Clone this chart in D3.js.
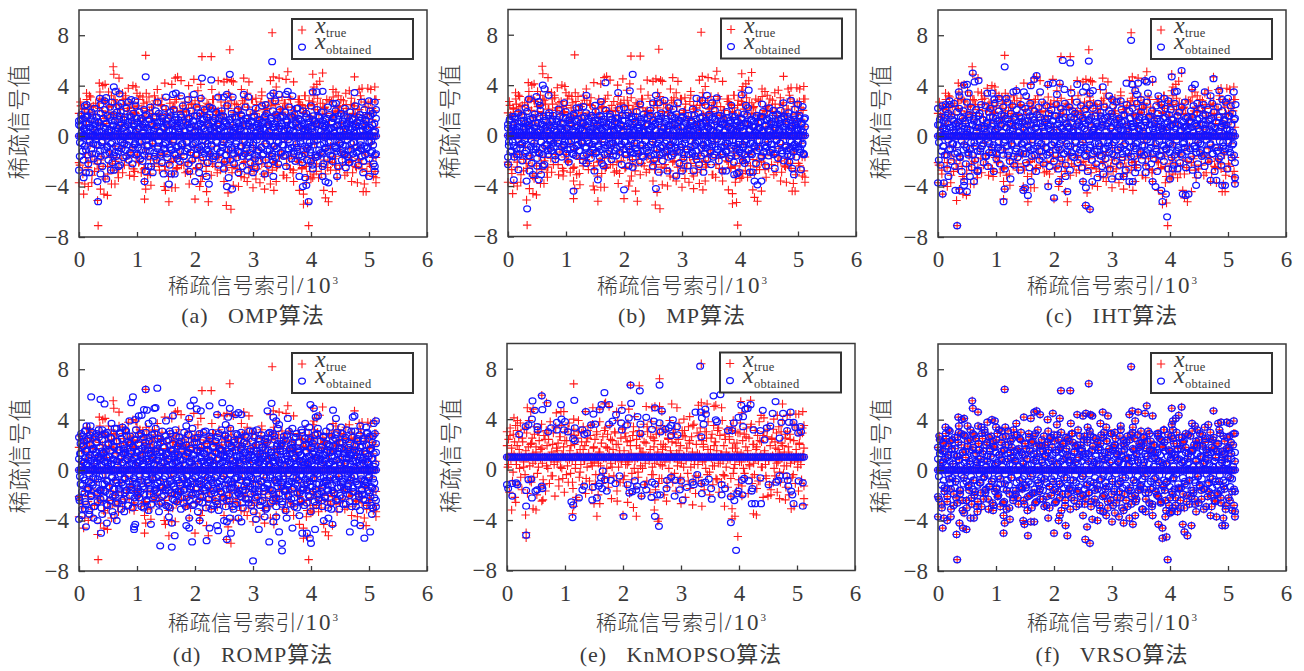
<!DOCTYPE html>
<html>
<head>
<meta charset="utf-8">
<script src="https://cdn.jsdelivr.net/npm/d3@7"></script>
<style>
  body { margin: 0; background: #fff; }
  svg { display: block; }
  text { fill: #3a3a3a; }
</style>
</head>
<body>
<svg id="chart" width="1304" height="671"></svg>
<script>
// values. *Spikes = flat x,y list (x in 10^3), *Cloud = dense part, in index order
const xTicks = [0, 1, 2, 3, 4, 5, 6];
const yTicks = [-8, -4, 0, 4, 8];
const captions = ["(a)   OMP算法", "(b)   MP算法", "(c)   IHT算法", "(d)   ROMP算法", "(e)   KnMOPSO算法", "(f)   VRSO算法"];

const trueSpikes = [.59,5.5,.6,4.9,.69,4.6,.35,4.2,.45,4.1,.41,4,.13,3.4,.18,3.2,.36,3.5,.51,3.5,.6,2.9,.69,3.5,.75,3.4,.8,3.2,.85,3.8,.93,4,.98,3.9,1,3.4,1.1,3.1,1.16,3.4,1.15,6.4,1.35,3.7,1.3,3.2,1.48,4.2,1.6,4.1,1.66,4.6,1.7,4.7,1.76,4.4,1.89,4,1.98,4.5,2.05,3.6,2.1,4.1,2.12,6.3,2.28,6.3,2.29,3.7,2.4,4.4,2.5,4.3,2.55,4.5,2.6,6.85,2.63,4.4,2.66,4.3,2.84,4.6,2.93,4.3,2.58,3.4,2.8,3.7,2.9,3.4,3.05,3,3.15,3.5,3.3,4.4,3.33,8.2,3.35,4.7,3.45,4.6,3.36,3.4,3.4,3.9,3.5,3.1,3.6,5.1,3.57,4.5,3.7,4.3,3.8,2.9,3.9,3.2,4.03,4.9,4.03,3.6,4.05,3.9,4.1,4.1,4.15,4.35,4.2,5,4.05,3.2,4.38,3.7,4.43,3.5,4.47,3.2,4.6,3.4,4.66,3.6,4.75,4.7,4.83,3.7,4.88,3.8,4.98,3.8,5.03,3.7,5.1,3.9,5.12,2.9,
  .33,-7.1,.32,-5.1,3.96,-7.1,3.87,-5.4,3.94,-5.3,3.87,-4.6,1.13,-5,1.55,-5.2,2,-5,2.23,-5.2,2.54,-5.5,2.62,-5.8,2.57,-4.5,4.22,-4.3,4.25,-4.9,4.3,-5.2,4.37,-4.4,4.9,-4.4,4.95,-4.4,.08,-4.6,0,-3.7,.1,-3.8,.16,-4,.22,-3.7,.37,-4.2,.43,-4.6,.49,-4.7,.56,-3.8,.62,-3.8,.68,-3.3,.45,-3.4,.95,-3.2,1.13,-3.6,1.15,-4.2,1.24,-3.9,1.47,-4,1.49,-4.3,1.6,-4.1,1.66,-4.1,1.9,-3.8,2.08,-4,2.1,-3.6,2.2,-4.4,2.5,-3.6,2.66,-3.9,2.75,-4,2.85,-3.3,2.9,-3.6,3,-4.1,3.05,-3.4,3.12,-3.7,3.2,-4.2,3.3,-3.8,3.36,-4.3,3.4,-3.6,3.2,-3.2,3.58,-3.3,3.7,-3.6,3.8,-4.3,3.92,-3.7,4,-3.4,4.03,-3.3,4.05,-3,4.13,-3.3,4.45,-3.3,4.7,-3.6,4.8,-3.7,4.92,-3.8,5.12,-3.3,5.12,-3.7];
const trueCloud = [1.8,-2.3,2.4,.6,-2.7,1.5,2.1,-1.4,.9,2.5,-2.1,1.2,-.7,2.3,-3.1,1.7,.5,-1.9,2.6,-.9,1.1,-2.6,2.2,.8,-1.6,2.9,-2.4,1.4,-.6,2.7,1,-3,1.9,-1.2,.7,2.4,-2.2,1.6,-.8,2.8,-1.7,1.3,.6,-2.5,2.1,-1,.9,-2.9,2.5,1.5,-.5,-1.8,2,.7,-2.3,2.6,-1.3,1.1,-.9,2.3,-2.8,1.8,.5,-1.5,2.9,-2,1.2,-.7,2.2,.8,-2.6,1.6,-1.1,2.7,-3.1,.9,2,-1.9,1.4,-.6,2.5,-2.4,1,.7,-1.6,2.8,-2.2,1.7,-.8,2.4,-1.4,1.2,.5,-2.7,2.1,-1.2,.9,-2.1,2.6,1.5,-.5,-3,2.3,.8,-1.8,2.9,-2.5,1.3,-1,2,-1.5,1.9,.6,-2.3,2.7,-.7,1.1,-2.8,2.2,1.6,-1.3,2.5,-2,.7,-.9,2.8,-2.6,1.4,.5,-1.7,2.4,-1.1,1.8,-3.2,2.1,.9,-.6,-2.4,2.6,1.2,-1.9,2.3,-1.4,.8,-2.2,2.9,-.8,1.5,.6,-2.9,2,-1.6,1,2.7,-2.1,1.7,-.5,2.4,-2.7,1.3,-1.2,2.2,.7,-1.8,2.8,-2.5,.9,1.9,-1,-2.3,2.5,.5,-1.5,1.6,-2.8,2.1,-.7,1.1,2.6,-2,.8,-1.3,2.3,-3,1.4,.6,-2.4,2.9,-.9,1.8,-1.7,2,-2.6,1.2,.7,-1.1,2.7,-2.2,1.5,-.6,2.4,-1.9,.9,2.2,-2.9,1,.5,-1.4,2.8,-2.1,1.7,-.8,2.5,-2.5,1.3,.8,-1.6,2.1,-1.2,1.9,-3.1,2.6,.6,-.5,-2.3,2.3,1.1,-1.8,2.9,-1.5,1.6,-2.7,2,-.7,1.4,.9,-2,2.7,-1,.7,-2.6,2.4,1.8,-1.3,2.2,-2.4,.5,-.9,2.8,-2.8,1.5,1,-1.7,2.5,-.6,1.2,-2.2,2.1,.8,-1.4,2.6,-3,1.7,.6,-1.9,2.3,-1.1,2.9,-2.5,.9,1.3,-.8,2.7,-2.1,1.6,-1.6,2,-2.7,.7,1.9,-.5,2.4,-1.2,1.1,-2.3,2.8,.5,-1.5,2.2,-2.9,1.4,.8,-1,2.5,-2,1.8,-.7,2.6,-2.4,1,1.5,-1.8,2.1,-.9,2.9,-2.6,.6,1.2,-1.3,2.3,-3.1,1.7,.9,-2.2,2.7,-.6,1.3,-1.7,2,-2.8,.7];
const trueOuter = [-2.1,2.7,1.6,-3,2.2,-1.7,2.9,-2.5,1.9,3.1,-1.5,2.4,-2.8,1.7,-2.2,2.6,3,-1.9,2,-3.2,2.8,1.5,-2.4,2.3,-1.6,3.2,-2.7,1.8,-2,2.5,-2.9,2.1,1.6,-1.8,2.9,-2.3,3,-1.5,2.2,-3.1,1.7,2.7,-2.6,1.9,-1.7,2.4,-2.1,3.2,-2.9,1.5,2.6,-2.5,2,-1.6,3.1,-3,2.3,1.8,-2.2,2.8,-1.9,1.6,-2.7,2.5,3,-1.5,-2.4,2.1,1.7,-3.2,2.9,-2,2.2,-1.8,2.7,-2.6,1.9,3.2,-1.7,-2.3,2.4,1.5,-2.9,2,-2.1,3.1,-3,2.6,1.8,-1.6,2.3,-2.5,2.8,1.6,-2.2,3,-1.9,2.1,-2.8,1.7,2.5,-1.5,-3.1,2.9,2.2,-2.4,1.9,-1.7,3.2,-2.7,2,1.5,-2,2.7,-2.3,2.4,-1.8,3.1,-2.9,1.6,2.6,-1.6,-2.6,2.2,1.8,-3.2,2.8,-2.1,3,-1.5,2.3,-2.5,1.7,2.9,-1.9,-2.8,2,2.5,-2.2,1.5,-1.7,3.2,-3,2.1,1.9,-2.4,2.7,-1.6,2.4,-2.7,3,1.6,-2,-2.3,2.8,1.8,-1.5,2.2,-3.1,2.6,-1.8,1.7,3.1,-2.6,2.3,-2.9,1.5,2,-1.7,2.9,-2.1,2.5,-2.5,1.9,3.2,-1.6,-3.2,2.4,1.6,-2.2,2.7,-1.9,2.1,-2.8,3,1.7,-1.5,-2.4,2.6,2.2,-3,1.8,-2,2.8,-2.7,1.5,3.1,-1.8,-2.3,2.3,2,-2.6,2.9,-1.6,1.9,-3.1,2.5,1.6,-2.1,-1.7,3,-2.9,2.4,1.7,-2.5,2.1,-1.9,3.2,-2.2,1.5,2.7,-1.5,-2.8,2.6,1.8,-2.4,2.2,-3.2,2.9,-1.7];
const innerCloud = [.9,-.5,1.3,.3,-1.2,.6,-.8,1.5,.4,-1.5,1,-.3,.7,-1,1.6,-.6,.5,1.2,-1.4,.3,-.7,1.1,.8,-1.6,.4,-.4,1.4,-1.1,.6,1,-.9,.3,-1.3,1.5,.5,-.5,.9,-1.5,1.2,-.8,.7,.4,-1.2,1.6,-.3,-1,.6,1.3,-.6,.8,-1.6,.3,1.1,-.4,-1.3,1.5,.5,-.9,1,-.7,.4,1.4,-1.4,.6,-.5,1.2,-1.1,.9,.3,-1.5,1.6,-.3,.7,-.8,1.3,-1.2,.5,1,-.6,.4,-1.6,1.5,.8,-1,-.4,1.1,.3,-1.3,1.4,-.7,.6,-.5,1.2,-1.4,.9,.4,-.9,1.6,-1.1,.5,-.3,1.3,-1.5,.7,1,-.8,.3,-1.2,1.5,-.6,.8,-1.6,.4,1.1,-.4,-1,1.4,.6,-1.3,.9,-.7,1.2,.3,-.5,-1.5,1.6,.5,-.9,1,-1.1,.7,-.3,1.3,-1.4,.4,1.5,-.6,-1.2,.8,.6,-.8,1.1,-1.6,.3,1.4,-.4,-1,.9,.5,-1.3,1.6,-.7,.7,-.5,1.2,-1.5,1,.4,-1.1,1.3,-.3,-.9,1.5,.3,-1.4,.6,-.6,1.1,-1.2,.8,.5,-.8,1.6,-1.6,.9,-.4,1.4,-1,.4,1,-.5,-1.3,1.2,.7,-.7,1.5,-1.5,.3,-.3,1.3,-1.1,.6,.8,-.9,1.1,-1.4,.5,1.6,-.6,-1.2,.9,.4,-.4,1.4,-1.6,.7,1,-.8,.3,-1,1.2,-.5,.6,1.5,-1.3,.8,-.7,.4,-1.5,1.3,1.1,-.3,-1.1,.5,1.6,-.9,.9,-1.4,.3,1,-.6,-1.2,1.4,.7,-.4,1.2,-1.6,.6,.4,-.8,1.5,-1,.5,1.1,-.5,-1.3,.8,1.3,-.7,.3,-1.5,1,-.3,1.6,-1.1,.9,.4,-1.4,1.2,-.6,.7,-.9,1.4,-1.2,.5,.6,-.4,1.1,-1.6,1.5,.3,-.8,-1,.8,1.3,-.5,.4,-1.3,1,-.7,1.6,-1.5,.6,.9,-.3,-1.1,1.2,.5,-.6,1.4,-1.4,.3,.7,-.9,1.1,-1.2,1.5,.4,-.4,-1.6,.8,1,-.8,1.3,-1,.6,.5,-.5,1.6,-1.3,.9,-.7,.3,-1.5,1.4];

const ompSpikes = [.6,3.9,.63,3.55,.7,3.35,.36,3,.47,3.05,.13,2.5,.1,2.4,.37,2.5,.44,2.8,.57,2.7,.68,2.4,.73,2.6,.85,2.7,.9,2.9,.97,2.8,1.15,4.7,1.35,2.7,1.5,3.1,1.62,3.3,1.67,3.4,1.76,3.2,1.88,2.9,1.98,3.3,2.1,3,2.12,4.6,2.28,4.45,2.25,2.3,2.4,3.1,2.5,3.1,2.55,3.3,2.6,4.9,2.65,3.1,2.84,3.3,2.92,3.1,3.22,2.5,3.3,3.2,3.33,5.9,3.35,3.4,3.45,3.3,3.38,2.8,3.57,3.3,3.6,3.55,3.68,3.2,3.75,2.2,4.03,3.5,4.1,3.5,4.2,3.55,4.38,2.6,4.43,2.6,4.75,3.45,4.88,2.7,5,2.8,5.1,2.7,5.12,2.1,
  .33,-5.2,3.96,-5.2,0,-2.7,.08,-3.3,.12,-2.9,.18,-2.9,.32,-3.6,.37,-3,.47,-3.4,.55,-2.7,.6,-2.7,.68,-2.4,1.13,-3.6,1.15,-2.8,1.2,-2.4,1.27,-2.9,1.46,-3,1.55,-3.8,1.59,-3,1.65,-3,1.9,-2.8,2,-3.6,2.07,-2.9,2.2,-3.2,2.24,-3.8,2.5,-2.6,2.55,-4,2.64,-4.2,2.58,-3.3,2.75,-2.9,2.9,-2.7,3,-2.9,3.05,-2.5,3.2,-3,3.35,-3.2,3.35,-2,3.8,-3.2,3.9,-3.3,3.86,-4,3.92,-3.9,4,-2,4.03,-2.6,4.2,-3.2,4.25,-3.6,4.3,-3.7,4.2,-2.4,4.45,-3.2,4.6,-2.5,4.65,-2.1,4.9,-2.9,5,-3.2,5.1,-2.8,5.1,-2.4];
const ompCloud = [1.2,-1.6,.8,1.7,-.6,1.4,-1.9,.5,2,-1.1,1,1.6,-2.2,.7,-.4,1.3,1.9,-1.4,.6,-1.8,2.2,.9,-.7,1.5,-2,1.1,.4,-1.2,1.8,-.5,-2.4,1.4,.7,2.1,-1.5,1,-.8,1.6,-1.9,.5,2.3,-.6,1.2,-2.1,.8,1.7,-1.3,.4,-1.6,1.9,.6,-.9,1.3,-2.3,2,1,-.5,-1.7,.7,1.5,-1.1,2.2,-.7,.9,-1.9,1.6,.5,-1.4,1.2,-2.2,1.8,.8,-.6,2.4,-1.5,1.1,-.9,.6,1.9,-1.8,1.4,-.4,-2,.7,2.1,1,-1.2,1.7,-.7,.5,-1.6,1.3,2.3,-2.4,.9,-.5,1.5,-1.3,.6,2,-1.9,1.1,-.8,1.8,.4,-1.5,1.2,-2.1,1.6,.7,-1,2.2,-.6,.9,-1.7,1.4,.5,-2.3,1.9,-1.1,1,-.4,2.1,-1.4,.8,1.5,-.9,-1.8,1.3,.6,-2,1.7,-.7,1.1,2.4,-1.6,.5,-1.2,1.9,-.5,.9,-2.2,1.4,.7,-1.3,2,-1.9,1.2,-.6,1.6,.4,-1.5,2.3,-1,.8,-2.4,1.8,1,-.8,1.3,-1.7,.6,2.1,-.4,-1.1,1.5,-2.1,.9,1.7,-1.4,.5,-.7,2.2,-1.8,1.2,.7,-1.6,1.9,-.5,1,-2.3,1.4,.6,-1.2,2,-.9,1.6,.4,-2,1.1,-1.5,2.4,.8,-.6,1.3,-1.9,.5,1.8,-1.1,.9,-2.2,1.5,.7,-.4,-1.7,2.1,1,-1.3,.6,1.7,-.8,-2.4,1.2,.4,-1.4,2.3,-.7,1.4,-1.6,.8,1.9,-2.1,.5,1.1,-1,-.5,1.6,-1.8,2.2,.7,-1.2,1,-2,1.3,.4,-.9,2.4,-1.5,.6,1.5,-.6,-1.9,1.8,1.1,-2.3,.9,-1.1,1.2,.5,-1.4,2,-.8,.7,-1.7,1.7,-.4,1.4,-2.2,.8,2.1,-1.3,1,-.7,1.6,-1.6,.5,1.9,-2.4,1.2,.6,-1,2.3,-.5,.9,-1.8,1.5,.4,-1.2,1.7,-2,1.1,-.9,2.2,.7,-1.5,1.3,-.6,.8,-2.1,2,1,-1.4,.5,1.8,-1.9,.7,-.8,1.4,-1.1,2.4,.6,-2.3,1.6,-.4,1.2,-1.7,.9,2.1,-1.6,.5,1.5,-.7,-1.3,1.9,.8,-2.2,1,-1,1.3,.4,-1.8,2.3,-.5,1.7,-1.5,.6,1.1,-2,1.4,.7,-.9,2,-1.2,.9,-2.4,1.6,.5,-.6,1.8,-1.9,1.2,.4,-1.4,2.2,-.8,1,-1.6,1.5,.7,-2.1,1.9,-1.1,.6,1.3,-.5,-1.7,2.4,.9,-1.3,1.1,-2.3,.8,1.7,-.7,-1,1.4,.5,-2,2.1,-1.5,1.2,.6,-.9,1.6,-1.8,.7,2,-.4,-1.2,1.8,-2.2,1,.4,-1.4];

const mpSpikes = [.6,4,.63,3.7,.7,3.2,.36,2.9,.49,3.1,.53,2.7,.55,2.4,.3,2.2,.97,2.6,1.35,3.2,1.18,2.2,1.3,2.3,1.5,2.4,1.6,2.7,1.68,4.2,1.9,3.4,2,2.2,2.1,3.55,2.15,4.85,2.28,2.5,2.55,3.2,2.5,2.6,2.6,2.6,2.7,2.8,2.85,2.1,2.93,2.6,3.25,2.95,3.35,2.8,3.4,2.4,3.43,3.2,3.52,2.6,3.6,3,3.85,2.4,4.03,3.25,4.1,2.4,4.15,3.6,4.38,2.5,4.5,2.2,4.7,2,4.75,2.6,4.88,2.8,5,2.5,5.08,2.3,4.95,2.1,
  .33,-5.8,0,-1.7,0,-2.3,.1,-3.5,.18,-2.7,.32,-3.6,.37,-2.8,.43,-3.1,.5,-2.4,.53,-3.5,.57,-3.1,.6,-2.4,1.13,-4.4,1.35,-2.2,1.49,-2.8,1.55,-3.5,1.65,-2.4,2,-4.3,2.08,-2.4,2.15,-2.5,2.55,-4.2,2.5,-2.4,2.6,-2.9,2.75,-2.8,2.9,-3.2,3,-2.8,3.1,-2.4,3.2,-2.8,3.25,-1.9,3.37,-2.9,3.5,-2.3,3.7,-2.8,3.76,-2.8,3.9,-3.1,3.95,-3,3.98,-2.9,4.05,-2,4.08,-2.2,4.17,-2.9,4.22,-2.9,4.25,-3.6,4.3,-3.9,4.37,-3.6,4.45,-2.4,4.6,-2.6,4.85,-2.1,4.9,-2.6,4.93,-3.1,5.05,-2.7,5.1,-1.5];
const mpCloud = [.6,-.8,1.2,-1.3,.4,1.5,-.5,.9,-1.7,1.3,.5,-1,.7,1.8,-1.5,.3,-.7,1.1,-2,1.6,.6,-.4,1,-1.2,1.9,.8,-1.6,.5,1.3,-.9,-2.2,.4,1.4,-.6,1.7,-1.1,.7,-1.8,1,.3,-1.4,2,-.5,.9,-1,1.5,-2.3,.6,1.2,-.7,.4,-1.5,1.8,.8,-.4,-1.2,1.1,1.6,-.9,.5,-1.9,1.3,.3,-.6,2.1,-1.3,.7,1,-1.7,.4,1.4,-.8,-.5,1.9,.6,-1.1,1.2,-2.1,.9,1.5,-.4,-1.4,.5,1.7,-1,.3,-1.6,1.1,.8,-.7,2.2,-1.2,.6,1.4,-.5,-2,1,.4,-.9,1.8,-1.5,.7,1.3,-.6,.5,-1.8,1.6,.3,-1.1,1,-.4,1.9,-1.3,.8,-.8,1.2,-1.7,.6,1.5,-2.2,.4,1.1,-.5,-1,2,.7,-1.4,.9,-.7,1.7,.3,-1.9,1.3,-.6,.5,-1.2,1.4,-1.6,1,.6,-.4,2.1,-.9,.8,-2.3,1.6,.4,-1.1,1.2,-.5,-1.5,.7,1.8,-.8,.3,-1.3,1.5,.9,-1.8,.5,-.6,1.1,-1,1.9,.6,-1.4,.4,-2.1,1.3,1,-.7,-1.7,1.7,.3,-.4,.8,-1.2,1.4,-.9,.5,2,-1.6,.7,-.5,1.2,-1.9,.9,.4,-1.1,1.6,-.6,1.1,-1.5,.3,1.8,-.8,-2,.6,1,-1.3,1.3,-.4,.5,-1.7,2.2,.8,-.7,-1,1.5,.4,-1.4,.9,-.5,1.7,-1.2,.6,1.2,-2.2,.3,-.9,1.4,1.9,-1.8,.7,-.6,1,-1.1,.5,1.6,-1.5,.4,-.4,1.1,-1.3,2.1,.8,-.8,-1.6,1.3,.6,-.5,1.8,-2.3,.3,.9,-1,1.5,-.7,.4,-1.4,1.2,1,-1.9,.7,-.6,1.7,-1.2,.5,-.4,1.4,-1.7,.8,2,-.9,.3,-1.1,1.6,-2,.6,1.1,-.5,-1.5,.9,1.3,-.8,.4,-1.3,1.9,-.6,.7,-1.8,1,.5,-1,1.5,-.4,-2.1,1.2,.3,-1.6,.8,1.8,-.7,-1.1,.6,1.4,-1.4,.4,-.9,1.7,-.5,1,-1.9,.9,2.2,-1.2,.5,-.6,1.3,-1.5,.7,1.1,-.8,.3,-2.2,1.6,-.4,1,-1,.6,1.5,-1.7,.4,1.9,-1.3,.8,-.5,1.2,-.9,.5,-1.6,1.4,.3,-.7,1.1,-1.1,2,.9,-1.4,.6,-.4,1.7,-1.8,.4,1,-.6,1.3,-1.2,.7,-2,1.5,.5,-.8,.9,-1.5,1.8,.3,-1,1.2,-.5,.6,-1.3,1.6,-.7,.8,-1.7,1.1,.4,-.9,1.4,-1.1,.5,1,-.6,-1.4,1.3,.7];

const ihtSpikes = [.6,5,.63,4.3,.7,4.4,.36,3.5,.37,3.2,.45,4.05,.5,4.1,.53,3.4,.13,2.5,.2,2.8,.85,3.4,.93,3.4,.97,2.9,1.05,3,1.15,5.5,1.18,3,1.35,3.6,1.3,3.5,1.48,3.5,1.52,3.2,1.6,4,1.66,4.5,1.7,4.8,1.76,3.5,1.9,4.1,1.98,4.2,2.05,3.3,2.1,4.2,2.15,6,2.18,3.7,2.28,5.8,2.3,3.4,2.4,4.1,2.5,3.5,2.55,3.9,2.6,5.95,2.62,3.4,2.67,3.6,2.84,3.9,2.95,3.2,3,2.9,3.15,2.8,3.25,4.2,3.33,7.6,3.35,4.1,3.4,3.6,3.45,4.2,3.43,3.3,3.5,2.9,3.57,4.4,3.6,4.3,3.62,3.4,3.7,4.5,3.8,3.2,3.9,3,3.97,2.8,4.03,4.7,4.08,3.5,4.12,3.55,4.2,5.2,4.38,3.8,4.43,4.1,4.47,2.6,4.6,3.5,4.7,3.2,4.75,4.55,4.85,3.6,4.9,2.9,5,3,5.1,3.5,5.13,2.5,
  .33,-7.1,.3,-4.3,.37,-4.3,3.95,-6.4,3.87,-5.2,3.93,-4.6,3.85,-4.3,1.13,-5.2,1.15,-4.2,1.55,-4.7,1.47,-4.3,1.5,-4.1,2,-4.9,2.23,-4.4,2.55,-5.5,2.62,-5.8,2.55,-4.1,4.22,-4.6,4.27,-4.7,4.32,-4.6,4.9,-3.9,4.95,-3.9,.08,-4.6,0,-3.7,.1,-3.7,.18,-3.2,.45,-3.6,.5,-4.4,.45,-3.9,.55,-3.2,.62,-3.6,.68,-2.8,1.25,-3.4,1.6,-3.6,1.9,-4,2.08,-3.6,2.2,-3.2,2.5,-3.6,2.66,-3.6,2.75,-3.3,2.85,-3,3,-3.4,3.12,-3.2,3.3,-3.6,3.36,-3.6,3.2,-3.2,3.4,-2.9,3.58,-2.9,3.7,-3.6,3.75,-4,4,-3.4,4.05,-2.6,4.13,-2.6,4.45,-3.9,4.48,-3.1,4.7,-3.5,4.8,-3.5,5.12,-3.3,5.12,-3.8];
const ihtCloud = [2.2,-1.9,.9,-2.3,1.5,2.4,-.8,1.2,-1.5,2.1,.6,-2.6,1.8,-1.1,2.5,.7,-2,1.3,-.6,2.6,-2.4,1,1.9,-1.3,.5,2.2,-1.7,1.5,-2.8,.8,2,-.7,1.2,-2.2,2.7,.6,-1.5,1.7,-1,2.3,-2.5,.9,1.4,-.5,-1.9,2.1,1.1,-2.7,.7,1.8,-1.2,2.5,-.8,1.3,-2.1,.6,2.4,-1.6,1,-2.4,1.9,-.6,2.2,.8,-1.3,1.5,-2.8,2.6,.5,-1.8,1.2,-.9,2,-2.2,.9,1.7,-1.1,2.3,-.5,-2.6,1.4,.7,2.7,-1.5,1,-2,1.8,-.7,2.4,.6,-2.3,1.3,-1.2,2.1,-1.7,.8,1.6,-2.7,2.5,-.6,1.1,-1.4,.5,2.2,-2.1,1.9,-.8,1.2,-2.5,2.6,.9,-1.6,1.5,-1,2,.6,-2.8,1.7,-.5,2.3,-1.9,1,-1.2,2.7,.7,-2.2,1.4,-.9,2.4,-1.5,.8,1.8,-2.4,.5,2.1,-.7,1.2,-2,1.6,-1.1,2.5,.9,-2.6,1.3,-.6,2.2,-1.8,.6,1.9,-1.4,2.6,-2.3,1,.7,-.8,2.3,-2.7,1.5,-1.3,2,.5,-1.7,1.8,-.5,2.7,-2.1,1.1,.8,-1.1,2.4,-2.5,1.4,-.9,.6,2.1,-1.6,1.7,-2.8,1.2,2.5,-.7,.9,-1.9,2.2,.5,-1.2,1.6,-2.2,1,2.6,-.6,-1.5,1.9,.7,-2.4,1.3,-1,2.3,-1.8,.8,1.5,-.8,2,-2.6,.6,1.8,-1.4,2.4,-.5,1.1,-2,2.7,.9,-1.1,1.4,-2.3,.5,2.1,-1.7,1.7,-.7,1.2,-2.7,2.5,.6,-1.3,2,-.9,1,-2.1,2.2,.8,-1.6,1.6,-.6,2.6,-2.5,1.3,.5,-1.2,1.9,-1.9,2.3,.7,-.8,1.1,-2.4,2.7,-1.4,1.5,.9,-.5,-2.2,2,.6,-1.8,1.2,-1,2.4,-2.8,1.8,.5,-1.5,.8,2.5,-.7,1.4,-2,1,2.2,-1.1,.7,-2.6,1.7,-.6,2.1,-1.7,.9,1.3,-2.3,2.6,.6,-1.2,1.6,-.9,1.9,-2.1,.5,2.3,-1.5,1.1,-.5,2.7,-2.5,.8,1.5,-1.9,1.2,-1,2,.7,-2.7,2.4,-.8,1,-1.3,1.8,-2.2,.6,1.4,-.6,2.2,-1.6,.9,2.5,-2.4,1.7,.5,-1.1,2.1,-2,1.3,-.7,.8,2.6,-1.4,1.9,-2.8,.6,1.1,-.9,2.3,-1.8,1.5,.7,-2.3,2,-.5,1.2,-1.2,2.7,.9,-2.6,1.6,-1,.5,2.4,-1.7,1.8,-.6,1.3,-2.1];

const rompSpikes = [.21,5.8,.37,5.6,.44,5.25,.9,5.35,.93,5.8,.87,3.9,.97,4,1.03,4.3,1.08,4.35,1.12,4.8,1.17,4.75,1.15,6.4,1.35,6.5,1.32,4.95,1.3,4.9,1.27,3.9,1.2,3.7,1.6,5.35,1.62,4.3,1.5,3.9,1.85,3.5,1.9,4.1,1.92,5.1,1.98,5.55,2.03,4.85,2.1,4.7,2.25,5.1,2.38,4.4,2.47,5.35,2.6,4.9,2.53,3.6,2.57,4.2,2.7,4.4,2.75,4.55,2.8,4.4,3.25,4.7,3.32,5.3,3.35,4.2,3.4,3.9,3.45,3.6,3.6,4.1,3.68,3.3,3.9,3.7,3.97,3.4,3.99,5.2,4.05,4.9,4.08,4.2,4.12,4.3,4.33,3.4,4.38,4.75,4.43,4.1,4.52,3.4,4.72,4.2,4.75,4.3,4.85,3.5,4.95,3.4,5.08,3.7,5.12,3.9,.05,2.7,.1,3.1,.13,3.5,.2,3.5,.3,2.9,.4,3.2,.56,3.7,.65,3.3,.75,3.4,.8,3.2,
  3,-7.2,3.5,-6.4,3.28,-5.7,3.5,-5.8,1.4,-6,1.6,-6.1,1.95,-5.7,2.2,-5.6,2.55,-5.5,2.62,-5,3.45,-4.9,3.1,-4.7,3.68,-4.6,.38,-5,.12,-4.5,0,-3.9,.05,-3.6,.1,-3.1,.18,-3.5,.25,-3.8,.32,-4,.4,-3.5,.48,-4.2,.6,-3.6,.65,-4,.78,-3.3,.95,-4.7,.97,-4.3,.95,-4.5,1.24,-4.3,1.6,-4.2,1.65,-5.2,1.55,-3.7,1.85,-4.4,1.9,-4.6,1.9,-3.8,2.08,-4,2.25,-4.6,2.38,-4.4,2.4,-4.8,2.5,-4,2.55,-4.1,2.75,-3.8,2.8,-4.1,2.6,-3.8,3.05,-3.9,3.2,-3.7,3.35,-4.1,3.4,-3.7,3.58,-3.8,3.8,-3.6,3.85,-5,3.93,-5,3.98,-5.4,4,-5.8,4.07,-4.7,4.22,-4,4.3,-3.8,4.37,-4.3,4.67,-4.9,4.75,-4.2,4.85,-4.4,4.92,-5.4,5.02,-4.9,5.05,-3.5,5.12,-2.9];
const rompCloud = [2.6,-2.4,1.3,-1.1,2.9,.7,-3.1,1.9,-.6,2.3,-1.8,1,3.1,-2.7,.5,1.6,-1.4,2.5,-.9,-3.2,1.2,2,-2.1,.8,3,-1.2,1.7,-2.9,.6,2.7,-.7,1.4,-1.9,2.2,-2.5,1,3.2,-.5,-1.6,1.8,.9,-3,2.4,-1.1,1.3,-2.2,.7,2.8,-1.7,1.5,-.8,3,-2.8,.6,2.1,-1.3,1.1,-2.4,2.6,.5,-.6,-3.3,1.9,.8,-1.5,3.3,-2,1.2,-1,2.3,.7,-2.6,1.6,-.5,2.9,-1.8,1,-3.1,2.5,.6,-1.2,1.7,-2.3,2,-.7,1.4,3.1,-1.6,.9,-2.8,2.2,-.9,.5,-2,2.7,1.3,-1.4,.8,-3,1.8,-.6,2.4,-2.5,1.1,3.2,-1.1,.6,-1.7,2.1,1.5,-2.2,.7,-.8,2.9,-2.9,1.2,.5,-1.3,2.6,-1.9,1.9,-.5,3,-2.4,.9,1.6,-1,-3.2,2.3,.7,-1.5,1.3,-2.7,2.8,-.7,1,2,-2.1,.5,-1.2,3.3,-.6,1.7,-1.8,2.5,.8,-3.3,1.4,-.9,2.2,-2.6,.6,3.1,-1.4,1.1,-2,1.8,-.5,2.7,-2.8,1.3,.7,-1.1,2.4,-1.6,.9,-3,2.9,-.8,1.5,.5,-2.3,2.1,-1.3,1,-1.9,3.2,.6,-.6,-2.5,1.9,1.2,-1.7,2.6,-1,.8,-3.1,2.3,-2.2,1.6,.5,-.7,3,-1.5,1.1,-2.9,2,-.5,1.4,-1.2,2.8,.7,-2.4,1.7,-.9,.6,-2,3.3,-1.8,1.2,-2.7,2.5,-.6,.9,-1.4,2.2,1.5,-3.3,.5,-1.1,2.9,-2.1,1.8,-.8,1,-2.6,2.4,.7,-1.6,1.3,-.5,3.1,-3,2.1,.6,-1.3,1.6,-2.3,2.7,-.7,.8,-1.9,1.1,3,-1,-2.8,1.9,.5,-.6,2.3,-2.5,1.4,-1.5,2.6,.9,-3.2,1.7,-.9,1.2,-1.7,3.2,.6,-2.2,2,-.5,1,-1.2,2.8,-2.9,.7,1.5,-.8,2.5,-2,1.3,-2.4,3.3,.5,-1.4,1.8,-1.1,.8,-3.1,2.2,-.7,1.6,-2.7,2.9,1,-.6,-1.8,2.4,.6,-1.6,1.1,-2.1,3,-.5,1.9,-3,.9,1.4,-1.3,2.7,-2.3,.7,2.1,-1,-.8,1.2,-2.6,3.1,.5,-1.9,1.7,-.6,2.3,-1.5,1,-3.3,2.6,-1.2,.8,-2.2,1.5,3.2,-.7,.6,-1.7,2,-2.8,1.3,-.9,2.8,.9,-2.4,1.8,-.5,1.1,-1.4,2.5,-3.1,.7,2.2,-1.1,1.6,-2,.5,3,-.6,-2.6,1.4,1,-1.6,2.9,-1.9,.6,2.4,-.8,1.2,-2.9,1.9,-1.3,3.3,.8,-.7,-2.3,1.7,.5,-1,2.1,-2.5,1.5,-.5,2.7,-1.7,.9,-3.2,2.3,1.1,-1.2,.7,-2.1,3.1,-.9,1.3,-2.7,2,.6,-1.5,1.8,-.6,2.6,-2.2,1,-1.1,.5,2.9,-3,1.6,-.8,2.2,.8,-1.8,1.2,-2.4,3.2,-.5,.7,-1.4,1.9,-2.8,2.5,.9,-.7,1.4,-1.6,.6,3,-2,1.1,-.9,2.4,-3.3,1.7,.5,-1.3,2.1,-.6,1.5,-2.5,2.8,.8,-1.1,1,-1.9,3.3,-2.3,.7,1.3,-.5,2.3,-1.7,1.8,-2.9,.6,2.6,-1,1.2,-2.1,.9,3.1,-.8,-1.5,1.6,-3,2,.5,-.6,1.4,-2.6,2.7,-1.2,.7,1.9,-1.8,1.1,-.7,2.5,-2.4,.8,3,-1.4,1.5,-.5,-3.1,2.2,.6,-1,1.7,-2.2,2.9,-.9,1.3,-1.6,.5,2.4,-2.7,1,3.2,-.6,-1.3,1.8,.9,-2,2.1,-.8,1.2,-2.9,2.6,.7,-1.7,1.6,-.5,3.1,-2.5,1.4,.6,-1.1,2.3,-1.9,.8,2.8,-3.2,1,-.7,-1.5,1.9,2.5,-2.3,.5,1.5,-.9,-1.2,2,-2.8,3,.7,1.1,-.6,-1.8,2.7,-2.1,1.7,.9,-1.4,2.2,-3,1.3,-1,2.9,.5,-2.4];
const rompOuter = [-2.2,2.1,-1.7,1.9,-2.5,2.4,-1.5,2.8,-2,1.7,-2.9,2.2,-1.8,2.6,-2.3,1.5,-1.6,2.9,-2.7,2,-1.9,2.5,-2.1,1.8,-2.6,2.3,-1.5,3,-2.4,1.6,-1.8,2.7,-2.8,2.1,-1.6,1.9,-2.2,2.4,-2,2.8,-1.7,1.7,-3,2.2,-2.5,2.6,-1.9,1.5,-2.3,2.9,-1.5,2,-2.7,2.5,-2.1,1.8,-1.6,2.3,-2.9,3.1,-1.8,1.6,-2.4,2.7,-2,2.1,-1.7,1.9,-2.6,2.4,-2.2,2.8,-1.5,1.7,-2.8,2.2,-1.9,2.6,-2.5,1.5,-2.1,3,-1.6,2,-2.3,2.5,-3.1,1.8,-1.8,2.3,-2.7,2.9,-1.7,1.6,-2.2,2.7,-2.4,2.1,-1.5,1.9,-2.9,2.4,-2,2.8,-1.9,1.7,-2.6,2.2,-1.6,2.6,-2.3,1.5,-2.8,3.1,-1.8,2,-2.1,2.5,-2.5,1.8,-1.7,2.3,-3,2.9,-1.5,1.6,-2.4,2.7,-2.2,2.1,-1.9,1.9,-2.7,2.4,-1.6,2.8,-2,1.7,-2.3,2.2,-2.9,2.6,-1.8,1.5,-2.5,3,-1.5,2,-2.6,2.5,-2.1,1.8,-1.7,2.3,-2.8,2.9,-1.9,1.6,-2.4,2.7,-2.2,2.1,-1.6,1.9,-3.1,2.4,-1.8,2.8,-2.3,1.7,-2,2.2,-2.7,2.6,-1.5,1.5,-2.5,3.1,-1.7,2,-2.9,2.5,-2.1,1.8,-1.9,2.3,-2.4,2.9,-1.6,1.6,-2.8,2.7,-2.2,2.1];

const knTrueSpikes = [1.15,6.8,2.13,6.7,2.28,6.65,2.63,7.2,3.35,8.4,.6,5.9,.68,5.3,.35,4.9,.45,4.8,.41,4.6,.12,4.1,.18,3.9,.85,4.5,.93,4.6,.98,4.6,1.15,4,1.35,4.6,1.48,4.9,1.6,4.8,1.68,5.2,1.7,5.3,1.76,5,1.89,4.6,1.98,5.1,2.1,4.8,2.2,4.2,2.4,5,2.5,4.9,2.55,5,2.63,5,2.67,4.6,2.84,5.2,2.93,4.9,3.05,4,3.15,4.2,3.3,5.1,3.35,5.3,3.45,5.2,3.4,4.5,3.6,5.1,3.57,5,3.7,4.9,3.9,3.9,4.03,5.4,4.05,4.5,4.15,5,4.2,5.5,4.38,4.3,4.43,4.1,4.6,4,4.66,4.3,4.75,5.2,4.83,4.3,4.88,4.4,4.98,4.4,5.03,4.4,5.1,4.6,5.12,3.5,
  .33,-5.4,3.98,-5.3,.32,-3.6,.33,-5,1.13,-3.5,1.55,-3.7,2,-3.6,2.23,-3.7,2.54,-3.2,2.6,-4.1,2.62,-3.9,3.88,-3.1,3.88,-3.9,3.93,-3.7,4.25,-3.5,4.3,-3.6,4.9,-3.1,4.95,-2.9,.08,-3.2,.15,-2.6,.45,-3.1,.5,-3.2,.6,-2.5,.62,-2.4,1.15,-2.9,1.5,-2.7,1.6,-2.7,1.2,-2.4,1.9,-2.5,2.08,-2.6,2.18,-3,2.55,-2.4,2.75,-2.5,3,-2.7,3.2,-2.8,3.36,-2.9,3.75,-2.9,4.05,-2.1,4.5,-2.1,4.55,-2,4.7,-2.3,4.8,-2.4,5.12,-2.3,5.12,-2.8];
const knTrueCloud = [3,.2,2.4,-1.8,3.3,.8,1.7,-.9,2.8,1.2,-2.2,3.5,.4,1.9,-1.2,2.6,.1,3.7,1.1,-1.6,2.2,.6,3.2,-.4,1.5,2.9,-1.9,.9,3.9,.3,2,-1,2.5,1.3,-.6,3.4,.7,1.8,-2,3,.2,2.3,-1.4,1.6,3.6,.5,-.8,2.7,1,-1.7,3.1,1.9,.1,2.4,-1.1,3.8,.8,1.4,-.5,2.9,.4,-2.1,3.3,1.7,.6,2.1,-1.3,2.6,.2,3.5,1.2,-.7,1.8,-1.8,3,.9,2.3,.3,-1,3.7,1.5,-.3,2.8,.7,-1.5,3.2,2,.1,-2.2,2.5,1.1,3.9,-.6,1.6,.4,2.9,-1.2,3.4,.8,1.9,-1.9,2.2,.2,3.1,1.3,-.9,2.7,.5,-1.6,3.6,1.7,.6,2.4,-.4,3,1,-2,1.4,3.8,.3,2.1,-1.1,2.6,.9,-.7,3.3,1.8,.1,2.8,-1.4,1.2,3.5,.5,-2.3,2.3,1.6,-.5,3,.7,2,-1.7,3.9,.2,1.1,-1,2.5,.8,3.2,-.8,1.5,2.9,.4,-1.3,2.2,3.7,.6,-1.9,1.9,1.3,-.3,2.7,3.4,.1,-1.5,1,2.4,.9,-.6,3.1,1.7,.3,-2.1,2.8,1.4,3.6,-1.2,.5,2.1,-.9,3,1.1,.7,-1.8,2.6,3.8,.2,-.4,1.8,2.3,-1.6,3.3,.8,1.2,-1.1,2.9,.4,3.5,-.7,1.6,2,-2,.6,3,1,-1.4,2.5,.1,3.9,1.5,-.5,2.2,-1,2.8,.9,3.2,-1.7,1.3,.3,2.4,3.7,-.8,1.9,.5,-1.3,2.7,1.1,3.1,-2.2,.7,1.7,-.3,3.4,2.1,-1.5,.2,2.6,1.4,-.9,3.6,.8,-1.9,2,2.9,.4,-.6,1.2,3.3,-1.1,2.3,.6,1.8,-1.6,3,.1,2.5,-.4,3.8,1,-2,1.6,.9,2.8,-1.2,3.5,.3,2.2,-.7,1.5,3.1,.5,-1.8,2.7,1.2,-1,3.9,.7,1.9,-.5,2.4,.2,3.2,-1.4,1.1,2.6,.8,-2.1,3.4,1.7,-.3,2.1,.4,3,-1.7,1.4,2.9,-.8,.6,3.7,1.3,-1.3,2.3,.1,2.8,-.6,1.8,3.3,.9,-1.9,2.5,.3,1,3.6,-1.1,2,.5,-.4,3.1,1.6,-1.5,2.7,.7,3.8,-.9,1.2,2.2,.2,-2.2,3,1.5,.4,-.7,2.6,3.5,.8,-1.2,1.9,-1.6,2.4,1.1,3.2,.1,-.5,1.7,2.9,-1.8,.6,3.4,1.3,-1,2.1,.9,3.9,-.3,1.4,2.5,-1.4,.3,3,1.8,-2,2.8,.5,1,-.6,3.6,2.3,.7,-1.1,1.6,3.1,.2,-1.7,2,2.7,.4,-.8,3.3,1.2,-1.3];
const knExtra = [1.9,.4,2.7,1.3,-.2,2.2,.7,3.1,1.6,-.6,2.5,.2,1,3.3,1.8,-.9,2.1,.5,2.8,1.4,-.3,3,.9,1.7,-1.2,2.4,.3,2.9,1.1,-.5,2,.6,3.4,1.5,-.8,2.6,.1,1.2,2.3,-.4,3.2,.8,1.9,-1,2.7,.4,1.3,3,-.2,2.2,1.6,.7,-.7,2.5,1,3.5,.3,1.8,-1.1,2.8,.5,1.4,2.1,-.3,3.1,.9,1.7,-.6,2.4,.2,1.1,2.9,-.9,2,1.5,.6,3.3,-.5,2.6,.4,1.2,2.3,-.8,3,.7,1.9,-.2,2.7,1.3,.1,2.2,-1.2,3.4,1,1.6,-.4,2.5,.5,2.8,1.4,-.7,2,.3,3.2,1.8,-1,2.4,.8,1.1,2.9,-.3,2.1,.6,1.5,-.6,3.1,.2,2.6,1.7,-.9,2.3,.9,3.5,.4,-.5,1.3,2.7,1,-1.1,2,.7,3,1.6,-.2,2.5,.3,1.9,2.2,-.8,3.3,.5,1.2,-.4,2.8,1.4,.8,2.4,-.7,3.1,.1,1.7,2.1,-1.2,2.9,.6,1.1,-.3,2.6,1.5,.4,3.4,-.6,2,.9,1.8,-.9,2.3,.2,2.7,1.3,-.5,3.2,.7,1,2.5,-1,2.2,.5,1.6,-.2,3,1.9,.3,2.8,-.7,1.4,2.4,.8,-.4,3.5,1.2,.6,2.1,-1.1,2.9,1.7];
const knObtSpikes = [.21,2.8,.32,3.4,.37,3.55,.44,5.45,.43,4,.48,4.7,.52,3.4,.53,3.15,.6,5.85,.61,4.75,.7,5.25,.71,3,.76,3.3,.86,3.75,.86,3.15,.93,5.15,.94,4,.98,3.15,1,3.8,1.05,3,1.14,2.45,1.17,2.3,1.16,5.5,1.17,3.3,1.3,3.15,1.33,2.8,1.38,2.9,1.36,4.6,1.45,3.55,1.49,4.4,1.52,3.6,1.6,4.75,1.63,5.15,1.68,6.1,1.76,5.15,1.76,3.6,1.82,3.85,1.88,4.35,1.97,3.7,1.98,4.7,1.98,3.15,2.07,3.55,2.1,4.1,2.13,6.7,2.14,5.25,2.25,4.2,2.29,6.25,2.3,3.6,2.3,2.85,2.4,4.15,2.5,3.2,2.53,3.85,2.55,4.9,2.63,6.7,2.67,4.65,2.65,3,2.63,3.7,2.73,3.2,2.79,3.3,2.83,3.5,2.83,2.7,2.86,3.95,2.93,3.4,2.94,2.75,3.25,4.55,3.34,4.55,3.33,8.2,3.35,2.6,3.36,4.1,3.39,3.6,3.42,4.8,3.43,4.4,3.56,5.85,3.68,5.95,3.6,3.95,3.62,3.8,3.81,3.1,3.88,3.1,3.91,3.7,3.99,4.15,4.04,5.1,4.07,4.2,4.07,3.4,4.11,4.8,4.15,4.85,4.2,5.15,4.25,3.15,4.41,4.7,4.37,3.1,4.44,2.35,4.48,3.3,4.54,3.45,4.58,4.45,4.63,5.4,4.7,2.5,4.73,3.75,4.76,4.45,4.83,3.1,4.86,3.75,4.89,4.55,4.94,3.75,4.97,3.35,5.02,2.9,5.06,3.4,5.07,3,
  0,-1.2,.02,-1.5,.09,-2.1,.09,-1.1,.16,-1.05,.18,-1.2,.33,-1.65,.33,-2.9,.33,-5.2,.37,-.8,.42,-.75,.43,-2.25,.49,-1.7,.52,-1.6,.6,-1.3,.61,-1.5,1.11,-2.55,1.14,-2.8,1.13,-3.8,1.24,-2.25,1.3,-1.6,1.33,-1.3,1.48,-1.4,1.47,-2.4,1.55,-2.25,1.58,-1.3,1.62,-.65,1.65,-.1,1.6,-1.1,1.64,-1.5,1.72,-1.7,1.69,-.8,1.79,-.85,1.87,-1.1,1.94,-.5,2.01,-3.7,2.08,-1.2,2.11,-1.85,2.16,-1.75,2.2,-.9,2.23,-1.6,2.24,-1.3,2.32,-2.1,2.36,-1.2,2.4,-1.6,2.49,-2.2,2.5,-1,2.55,-1.15,2.55,-3.7,2.59,-2,2.62,-4.5,2.64,-2,2.75,-1.5,2.76,-.85,2.83,-.6,2.89,-2.1,2.9,-.85,2.98,-1.6,3,-.9,3.03,-2.4,3.1,-1.4,3.2,-1,3.22,-1.2,3.28,-.4,3.35,-1.1,3.36,-1.9,3.42,-1,3.48,-.75,3.52,-1.5,3.53,-2.35,3.7,-1.2,3.7,-2,3.76,-1.5,3.86,-2.15,3.86,-4.2,3.92,-2.45,3.95,-6.4,3.97,-1.9,3.99,-1.7,4.06,-2,4.05,-.85,4.09,-.7,4.17,-.9,4.22,-1.7,4.23,-1.5,4.22,-2.7,4.28,-2.7,4.37,-.65,4.38,-2.7,4.51,-1.2,4.64,-1,4.68,-.85,4.7,-.5,4.82,-.5,4.84,-.85,4.85,-1.3,4.9,-1.7,4.92,-2,4.94,-2.7,5.03,-.9,5.1,-1.05,5.1,-2.9];

// the solid band of near-constant samples, one entry per plotted sample
const zeroBand = [0,0,0,0,0,0,0,0,0,0,0,0,0,0,0,0,0,0,0,0,0,0,0,0,0,0,0,0,0,0,0,0,0,0,0,0,0,0,0,0,0,0,0,0,0,0,0,0,0,0,0,0,0,0,0,0,0,0,0,0,0,0,0,0,0,0,0,0,0,0,0,0,0,0,0,0,0,0,0,0,0,0,0,0,0,0,0,0,0,0,0,0,0,0,0,0,0,0,0,0,0,0,0,0,0,0,0,0,0,0,0,0,0,0,0,0,0,0,0,0,0,0,0,0,0,0,0,0,0,0,0,0,0,0,0,0,0,0,0,0,0,0,0,0,0,0,0,0,0,0,0,0,0,0,0,0,0,0,0,0,0,0,0,0,0,0,0,0];
const oneBand = [1,1,1,1,1,1,1,1,1,1,1,1,1,1,1,1,1,1,1,1,1,1,1,1,1,1,1,1,1,1,1,1,1,1,1,1,1,1,1,1,1,1,1,1,1,1,1,1,1,1,1,1,1,1,1,1,1,1,1,1,1,1,1,1,1,1,1,1,1,1,1,1,1,1,1,1,1,1,1,1,1,1,1,1,1,1,1,1,1,1,1,1,1,1,1,1,1,1,1,1,1,1,1,1,1,1,1,1,1,1,1,1,1,1,1,1,1,1,1,1,1,1,1,1,1,1,1,1,1,1,1,1,1,1,1,1,1,1,1,1,1,1,1,1,1,1,1,1,1,1,1,1,1,1,1,1,1,1,1,1,1,1,1,1,1,1,1,1];

// layout
const panelLeft = [79, 508, 938, 79, 507, 938];
const panelTop = [10, 9.5, 10, 344, 343.5, 344];
const yTitleX = [-58, -56, -55, -57, -54, -55];
const plotW = 348;
const plotH = 227;
const serif = "'Liberation Serif', serif";
const cjk = "'Noto Sans CJK SC', sans-serif";
const maxIndex = 5.12;

const svg = d3.select("#chart");

// flat x,y list -> points
const fromSpikes = (flat) => d3.range(0, flat.length - 1, 2).map((i) => [flat[i], flat[i + 1]]);
// values in index order -> points spread along the signal
const fromCloud = (vals) => {
  const idx = d3.scaleLinear().domain([0, vals.length - 1]).range([0, maxIndex]);
  return vals.map((v, i) => [idx(i), v]);
};
const points = (spikes, ...clouds) => fromSpikes(spikes).concat(...clouds.map(fromCloud));

const trueAll = points(trueSpikes, trueCloud, trueOuter, zeroBand);
const panels = [
  { t: trueAll, o: points(ompSpikes, ompCloud, innerCloud, zeroBand) },
  { t: trueAll, o: points(mpSpikes, mpCloud, innerCloud, zeroBand) },
  { t: trueAll, o: points(ihtSpikes, ihtCloud, innerCloud, zeroBand) },
  { t: trueAll, o: points(rompSpikes, rompCloud, rompOuter, innerCloud, zeroBand) },
  { t: points(knTrueSpikes, knTrueCloud, knExtra, oneBand), o: points(knObtSpikes, oneBand) },
  { t: trueAll, o: points(trueSpikes, trueCloud, trueOuter, innerCloud, zeroBand) },
];

const plusPath = (px, py) => `M${px - 4.2},${py}H${px + 4.2}M${px},${py - 4.2}V${py + 4.2}`;

panels.forEach((p, k) => {
  const row2 = k >= 3;
  const g = svg.append("g").attr("transform", `translate(${panelLeft[k]},${panelTop[k]})`);
  const x = d3.scaleLinear().domain([0, 6]).range([0, plotW]);
  const y = d3.scaleLinear().domain([-8, 10]).range([plotH, 0]);

  // red plus marks, all in one path so it stays light
  g.append("path")
    .attr("d", p.t.map((d) => plusPath(x(d[0]), y(d[1]))).join(""))
    .attr("stroke", "#ff1a1a").attr("stroke-width", 1.1).attr("fill", "none");

  g.append("g").selectAll("ellipse").data(p.o).join("ellipse")
    .attr("cx", (d) => x(d[0])).attr("cy", (d) => y(d[1]))
    .attr("rx", 3.4).attr("ry", 3)
    .attr("fill", "none").attr("stroke", "#1414ff").attr("stroke-width", 1.25);

  // frame and axes
  g.append("rect").attr("width", plotW).attr("height", plotH)
    .attr("fill", "none").attr("stroke", "#3a3a3a").attr("stroke-width", 1.5);

  const xAxis = g.append("g").attr("transform", `translate(0,${plotH})`)
    .call(d3.axisBottom(x).tickValues(xTicks).tickSize(-5).tickPadding(14).tickFormat(d3.format("d")));
  const yAxis = g.append("g")
    .call(d3.axisLeft(y).tickValues(yTicks).tickSize(-6).tickPadding(10).tickFormat((d) => (d < 0 ? "\u2212" + (-d) : d)));
  [xAxis, yAxis].forEach((a) => {
    a.select(".domain").remove();
    a.selectAll("line").attr("stroke", "#3a3a3a").attr("stroke-width", 1.3);
    a.selectAll("text").attr("font-family", serif).attr("font-size", 23).attr("fill", "#3a3a3a");
  });

  // axis titles
  g.append("text")
    .attr("transform", `translate(${yTitleX[k]},112) rotate(-90)`)
    .attr("text-anchor", "middle").attr("dominant-baseline", "middle")
    .attr("font-family", cjk).attr("font-size", 22.5).attr("letter-spacing", 0.5)
    .attr("font-weight", 300).text("稀疏信号值");

  const xTitle = g.append("text").attr("x", plotW / 2).attr("y", plotH + (row2 ? 59 : 56))
    .attr("text-anchor", "middle").attr("font-family", cjk).attr("font-size", 21).attr("font-weight", 300);
  xTitle.append("tspan").attr("letter-spacing", 0.5).text("稀疏信号索引");
  xTitle.append("tspan").attr("font-family", serif).attr("font-size", 23).attr("letter-spacing", 2).text("/10");
  xTitle.append("tspan").attr("font-family", serif).attr("font-size", 11).attr("dy", -9).text("3");

  g.append("text").attr("x", plotW / 2).attr("y", plotH + (row2 ? 91 : 86))
    .attr("text-anchor", "middle").attr("font-family", `${serif.split(",")[0]}, 'Noto Sans CJK SC'`)
    .attr("font-size", 22).attr("letter-spacing", 1).style("white-space", "pre").text(captions[k]);

  // legend
  const lg = g.append("g").attr("transform", "translate(213,9)");
  lg.append("rect").attr("width", 121).attr("height", 40)
    .attr("fill", "#fff").attr("stroke", "#333").attr("stroke-width", 2);
  lg.append("path").attr("d", plusPath(10, 11))
    .attr("stroke", "#ff1a1a").attr("stroke-width", 1.1).attr("fill", "none");
  lg.append("ellipse").attr("cx", 10).attr("cy", 28).attr("rx", 3.4).attr("ry", 3)
    .attr("fill", "none").attr("stroke", "#1414ff").attr("stroke-width", 1.25);
  [["true", 14, 18], ["obtained", 30, 35]].forEach(([sub, base, subBase]) => {
    lg.append("text").attr("x", 23).attr("y", base)
      .attr("font-family", serif).attr("font-style", "italic").attr("font-size", 24).text("x");
    lg.append("text").attr("x", 34).attr("y", subBase)
      .attr("font-family", serif).attr("font-size", 12.5).attr("letter-spacing", 0.3).text(sub);
  });
});
</script>
</body>
</html>
